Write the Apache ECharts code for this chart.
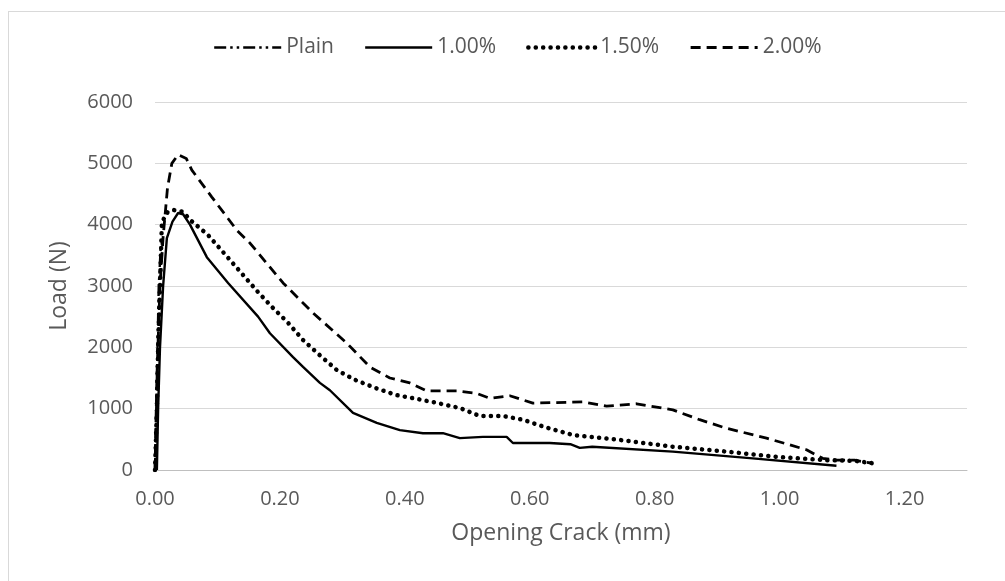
<!DOCTYPE html>
<html><head><meta charset="utf-8">
<script src="https://cdn.jsdelivr.net/npm/echarts@6/dist/echarts.min.js"></script>
<style>html,body{margin:0;padding:0;background:#fff}#c{width:1005px;height:581px;position:relative}
#b{position:absolute;left:8px;top:11px;width:1000px;height:600px;border:1px solid #d9d9d9;box-sizing:border-box;pointer-events:none}</style>
</head><body><div id="c"></div>
<script>
const seriesNames = ['Plain', '1.00%', '1.50%', '2.00%'];
const xTicks = [0, 0.2, 0.4, 0.6, 0.8, 1.0, 1.2];
const yTicks = [0, 1000, 2000, 3000, 4000, 5000, 6000];

const plain = [[0,0],[0.002,1000],[0.004,2000],[0.006,3000],[0.009,3600],[0.012,3750]];
const p100 = [[0.003,0],[0.005,1000],[0.008,2000],[0.013,3000],[0.019,3780],[0.028,4050],[0.037,4190],[0.045,4170],[0.056,4000],[0.083,3470],[0.117,3050],[0.165,2500],[0.184,2230],[0.221,1840],[0.237,1680],[0.264,1420],[0.28,1300],[0.317,930],[0.355,770],[0.392,650],[0.429,600],[0.461,600],[0.488,520],[0.525,540],[0.563,540],[0.573,440],[0.632,440],[0.665,420],[0.68,360],[0.70,380],[0.829,300],[0.957,190],[1.091,70]];
const p150 = [[0,0],[0.003,1000],[0.005,2000],[0.008,3000],[0.011,4040],[0.02,4200],[0.029,4240],[0.045,4210],[0.056,4080],[0.085,3830],[0.117,3460],[0.165,2900],[0.189,2640],[0.213,2400],[0.237,2120],[0.264,1870],[0.291,1630],[0.32,1470],[0.352,1340],[0.387,1220],[0.419,1160],[0.453,1090],[0.488,1010],[0.52,880],[0.557,880],[0.589,820],[0.624,700],[0.669,570],[0.744,490],[0.829,380],[0.915,300],[1.0,210],[1.075,160],[1.12,150],[1.149,110]];
const p200 = [[0,0],[0.003,1500],[0.008,3000],[0.013,3800],[0.02,4600],[0.027,5000],[0.037,5140],[0.05,5080],[0.059,4890],[0.091,4450],[0.131,3910],[0.152,3700],[0.205,3050],[0.253,2560],[0.307,2070],[0.344,1680],[0.376,1500],[0.408,1420],[0.435,1290],[0.483,1290],[0.515,1250],[0.536,1170],[0.568,1210],[0.605,1090],[0.685,1110],[0.723,1040],[0.771,1080],[0.829,980],[0.872,820],[0.915,680],[0.979,520],[1.043,330],[1.069,190],[1.09,160],[1.12,160],[1.149,110]];

const font = "'Open Sans', 'Noto Sans', sans-serif";
const txt = '#595959';
const styles = [
  { width: 2.4, type: [12, 4, 2.5, 4, 2.5, 4], cap: 'butt' },
  { width: 2.4, type: 'solid', cap: 'butt' },
  { width: 4.5, type: [0.1, 7.3], cap: 'round' },
  { width: 2.8, type: [10, 6], cap: 'butt' }
];
const dataSets = [plain, p100, p150, p200];
const chart = echarts.init(document.getElementById('c'));
chart.setOption({
  animation: false,
  backgroundColor: '#fff',
  grid: { left: 155, right: 38, top: 102, bottom: 111, containLabel: false },
  legend: {
    top: 32, left: 208, itemWidth: 67, itemHeight: 14, itemGap: 30,
    itemStyle: { opacity: 0 },
    textStyle: { color: txt, fontFamily: font, fontSize: 21 },
    data: seriesNames.map((n, i) => ({ name: n, lineStyle: Object.assign({ color: '#000' }, styles[i]) }))
  },
  xAxis: {
    type: 'value', min: 0, max: 1.3, interval: 0.2,
    name: 'Opening Crack (mm)', nameLocation: 'middle', nameGap: 52,
    nameTextStyle: { color: txt, fontFamily: font, fontSize: 23 },
    axisLine: { show: true, lineStyle: { color: '#bfbfbf', width: 1 } },
    axisTick: { show: false }, splitLine: { show: false },
    axisLabel: { color: txt, fontFamily: font, fontSize: 20, margin: 19, showMaxLabel: false,
      formatter: v => xTicks.some(t => Math.abs(t - v) < 1e-9) ? v.toFixed(2) : '' }
  },
  yAxis: {
    type: 'value', min: 0, max: 6000, interval: 1000,
    name: 'Load (N)', nameLocation: 'middle', nameGap: 84, nameRotate: 90,
    nameTextStyle: { color: txt, fontFamily: font, fontSize: 23 },
    axisLine: { show: false }, axisTick: { show: false },
    splitLine: { lineStyle: { color: '#d9d9d9', width: 1 } },
    axisLabel: { color: txt, fontFamily: font, fontSize: 20, margin: 22,
      formatter: v => yTicks.includes(v) ? String(v) : '' }
  },
  series: seriesNames.map((n, i) => ({
    name: n, type: 'line', data: dataSets[i], showSymbol: false, symbol: 'none',
    lineStyle: Object.assign({ color: '#000' }, styles[i]), itemStyle: { color: '#000' }
  }))
});
</script>
<div id="b"></div>
</body></html>
